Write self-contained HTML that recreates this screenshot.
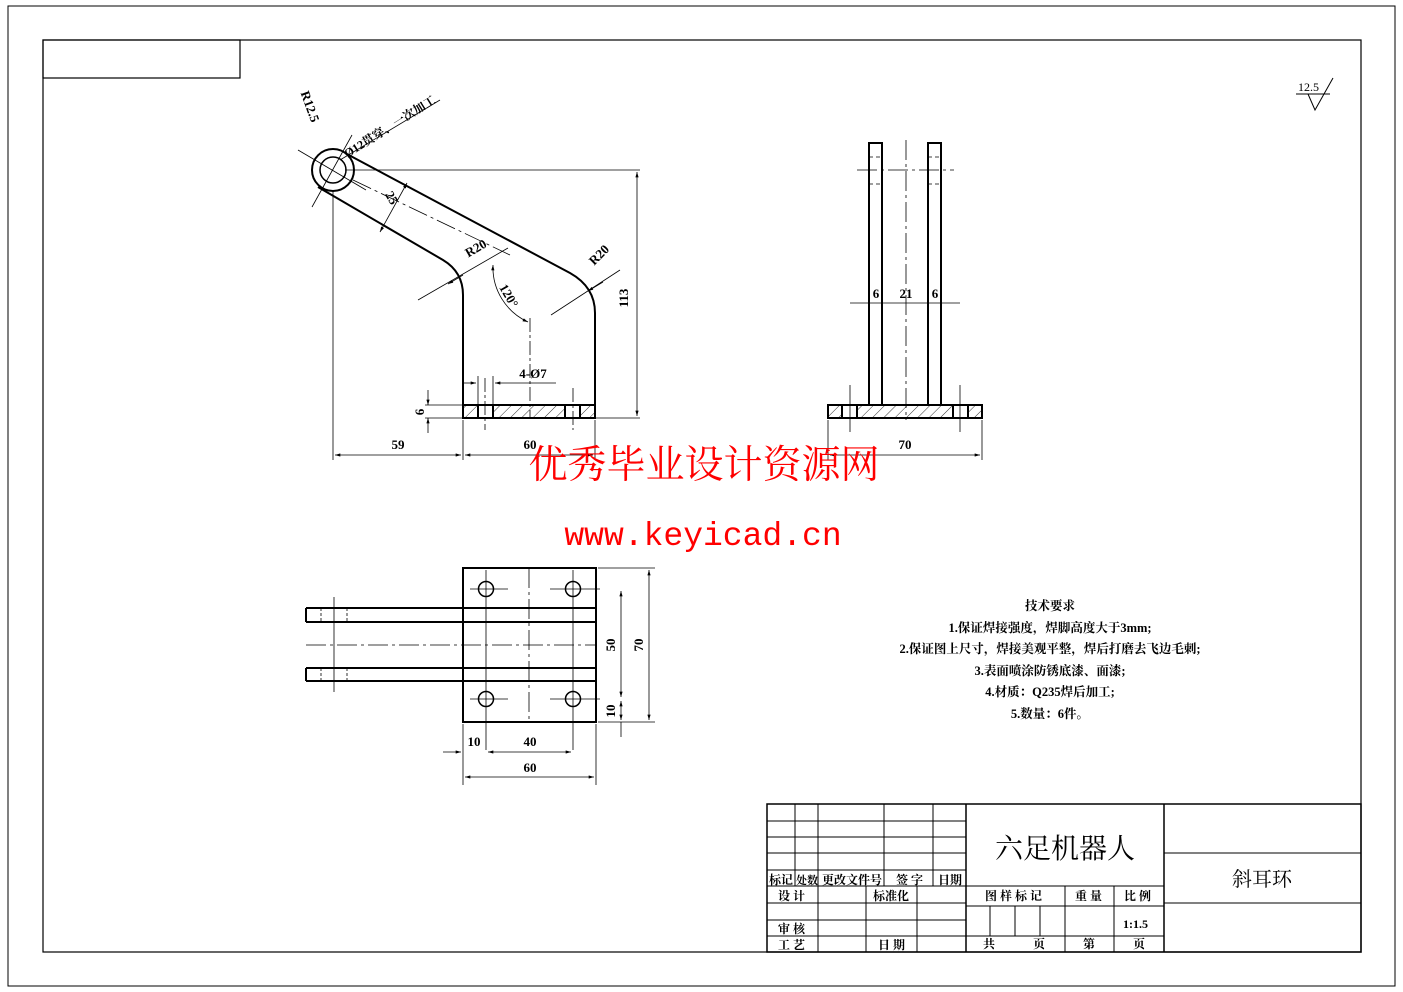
<!DOCTYPE html>
<html><head><meta charset="utf-8"><style>
html,body{margin:0;padding:0;background:#fff}
svg{display:block}
text{font-family:"Liberation Serif","Noto Serif CJK SC","WenQuanYi Zen Hei",serif;fill:#000}
.c{font-family:"Liberation Serif","Noto Sans CJK SC",sans-serif;font-weight:bold}
</style></head><body>
<svg width="1403" height="992" viewBox="0 0 1403 992" xmlns="http://www.w3.org/2000/svg">
<defs>
<pattern id="h" width="8" height="8" patternUnits="userSpaceOnUse" patternTransform="rotate(45)"><line x1="0" y1="0" x2="0" y2="8" stroke="#000" stroke-width="0.8"/></pattern>
<marker id="a" viewBox="0 0 10 6" refX="10" refY="3" markerWidth="8" markerHeight="4" orient="auto-start-reverse"><path d="M0,0 L10,3 L0,6z" fill="#000"/></marker>
</defs>
<rect x="8" y="6" width="1387" height="980" fill="none" stroke="#000" stroke-width="1"/>
<rect x="43" y="40" width="1318" height="912" fill="none" stroke="#000" stroke-width="1.2"/>
<rect x="43" y="40" width="197" height="38" fill="none" stroke="#000" stroke-width="1.2"/>

<text x="1298" y="91" font-size="12">12.5</text>
<path d="M1296,94 L1330,94 M1308,94 L1315,110 L1333,78" fill="none" stroke="#000"/>

<g stroke="#000" fill="none">
<circle cx="333" cy="170" r="21" stroke-width="2"/>
<circle cx="333" cy="170" r="13" stroke-width="1.5"/>
<path d="M345,153 L570,273 Q595,287 595,313 L595,405" stroke-width="2"/>
<path d="M318,187 L443,260 Q463,272 463,295 L463,405" stroke-width="2"/>
<rect x="463" y="405" width="132" height="13" fill="url(#h)" stroke-width="2"/>
<rect x="478" y="405" width="15" height="13" fill="#fff" stroke-width="2"/>
<rect x="565" y="405" width="15" height="13" fill="#fff" stroke-width="2"/>
<g stroke-width="0.8">
<line x1="485" y1="378" x2="485" y2="430" stroke-dasharray="14,3,3,3"/>
<line x1="573" y1="388" x2="573" y2="430" stroke-dasharray="14,3,3,3"/>
<line x1="530" y1="318" x2="530" y2="418" stroke-dasharray="14,3,3,3"/>
<line x1="298" y1="150" x2="366" y2="190"/>
<line x1="312" y1="207" x2="352" y2="135"/>
<line x1="353" y1="180" x2="510" y2="255" stroke-dasharray="20,4,3,4"/>
<line x1="345" y1="170" x2="640" y2="170"/>
<line x1="595" y1="418" x2="640" y2="418"/>
<line x1="637" y1="172" x2="637" y2="416" marker-start="url(#a)" marker-end="url(#a)"/>
<line x1="333" y1="190" x2="333" y2="460"/>
<line x1="463" y1="420" x2="463" y2="460"/>
<line x1="595" y1="420" x2="595" y2="460"/>
<line x1="335" y1="455" x2="461" y2="455" marker-start="url(#a)" marker-end="url(#a)"/>
<line x1="465" y1="455" x2="593" y2="455" marker-start="url(#a)" marker-end="url(#a)"/>
<line x1="425" y1="405" x2="463" y2="405"/>
<line x1="425" y1="418" x2="463" y2="418"/>
<line x1="428" y1="390" x2="428" y2="405" marker-end="url(#a)"/>
<line x1="428" y1="433" x2="428" y2="418" marker-end="url(#a)"/>
<line x1="463" y1="383" x2="476" y2="383" marker-end="url(#a)"/>
<line x1="556" y1="383" x2="495" y2="383" marker-end="url(#a)"/>
<line x1="493" y1="376" x2="493" y2="405"/><line x1="478" y1="376" x2="478" y2="405"/>
<line x1="380" y1="232" x2="407" y2="183" marker-start="url(#a)" marker-end="url(#a)"/>
<line x1="418" y1="300" x2="508" y2="248"/>
<line x1="463" y1="275" x2="448" y2="284" marker-end="url(#a)"/>
<line x1="551" y1="315" x2="620" y2="270"/>
<line x1="603" y1="282" x2="588" y2="291" marker-end="url(#a)"/>
<path d="M493,265 A60,60 0 0 0 528,322" marker-start="url(#a)" marker-end="url(#a)"/>
<line x1="340" y1="160" x2="440" y2="100"/>
</g>
</g>
<g class="c" font-size="13">
<text x="628" y="298" transform="rotate(-90 628 298)" text-anchor="middle">113</text>
<text x="398" y="449" text-anchor="middle">59</text>
<text x="530" y="449" text-anchor="middle">60</text>
<text x="533" y="378" text-anchor="middle">4-Ø7</text>
<text x="424" y="412" transform="rotate(-90 424 412)" text-anchor="middle">6</text>
<text x="388" y="200" transform="rotate(60 388 200)" text-anchor="middle">25</text>
<text x="478" y="252" transform="rotate(-30 478 252)" text-anchor="middle">R20</text>
<text x="602" y="258" transform="rotate(-45 602 258)" text-anchor="middle">R20</text>
<text x="505" y="298" transform="rotate(60 505 298)" text-anchor="middle">120°</text>
<text x="306" y="108" transform="rotate(70 306 108)" text-anchor="middle">R12.5</text>
<text x="392" y="130" transform="rotate(-32 392 130)" text-anchor="middle" font-size="12">Ø12贯穿、一次加工</text>
</g>

<g stroke="#000" fill="none">
<rect x="869" y="143" width="13" height="262" stroke-width="2"/>
<rect x="928" y="143" width="13" height="262" stroke-width="2"/>
<rect x="828" y="405" width="154" height="13" fill="url(#h)" stroke-width="2"/>
<rect x="842" y="405" width="15" height="13" fill="#fff" stroke-width="2"/>
<rect x="953" y="405" width="15" height="13" fill="#fff" stroke-width="2"/>
<g stroke-width="0.8">
<line x1="906" y1="140" x2="906" y2="420" stroke-dasharray="20,4,3,4"/>
<line x1="857" y1="170" x2="954" y2="170" stroke-dasharray="20,4,3,4"/>
<line x1="869" y1="157" x2="882" y2="157" stroke-dasharray="4,3"/><line x1="869" y1="184" x2="882" y2="184" stroke-dasharray="4,3"/>
<line x1="928" y1="157" x2="941" y2="157" stroke-dasharray="4,3"/><line x1="928" y1="184" x2="941" y2="184" stroke-dasharray="4,3"/>
<line x1="850" y1="303" x2="960" y2="303"/>
<line x1="850" y1="385" x2="850" y2="432"/><line x1="960" y1="385" x2="960" y2="432"/>
<line x1="828" y1="420" x2="828" y2="460"/><line x1="982" y1="420" x2="982" y2="460"/>
<line x1="830" y1="455" x2="980" y2="455" marker-start="url(#a)" marker-end="url(#a)"/>
</g>
</g>
<g class="c" font-size="13">
<text x="876" y="298" text-anchor="middle">6</text>
<text x="906" y="298" text-anchor="middle">21</text>
<text x="935" y="298" text-anchor="middle">6</text>
<text x="905" y="449" text-anchor="middle">70</text>
</g>

<g stroke="#000" fill="none">
<rect x="463" y="568" width="133" height="154" stroke-width="2"/>
<path d="M306,608 H596 M306,622 H596 M306,608 V622 M306,668 H596 M306,681 H596 M306,668 V681" stroke-width="2"/>
<circle cx="486" cy="589" r="7.5" stroke-width="1.5"/><circle cx="573" cy="589" r="7.5" stroke-width="1.5"/>
<circle cx="486" cy="699" r="7.5" stroke-width="1.5"/><circle cx="573" cy="699" r="7.5" stroke-width="1.5"/>
<g stroke-width="0.8">
<line x1="321" y1="608" x2="321" y2="622" stroke-dasharray="3,2"/><line x1="347" y1="608" x2="347" y2="622" stroke-dasharray="3,2"/>
<line x1="321" y1="668" x2="321" y2="681" stroke-dasharray="3,2"/><line x1="347" y1="668" x2="347" y2="681" stroke-dasharray="3,2"/>
<line x1="334" y1="597" x2="334" y2="692"/>
<line x1="306" y1="645" x2="596" y2="645" stroke-dasharray="20,4,3,4"/>
<line x1="529" y1="568" x2="529" y2="722" stroke-dasharray="20,4,3,4"/>
<line x1="470" y1="589" x2="508" y2="589"/><line x1="550" y1="589" x2="600" y2="589"/>
<line x1="470" y1="699" x2="508" y2="699"/><line x1="550" y1="699" x2="600" y2="699"/>
<line x1="486" y1="570" x2="486" y2="750"/><line x1="573" y1="570" x2="573" y2="750"/>
<line x1="463" y1="724" x2="463" y2="785"/><line x1="596" y1="724" x2="596" y2="785"/>
<line x1="443" y1="752" x2="461" y2="752" marker-end="url(#a)"/>
<line x1="488" y1="752" x2="571" y2="752" marker-start="url(#a)" marker-end="url(#a)"/>
<line x1="465" y1="777" x2="594" y2="777" marker-start="url(#a)" marker-end="url(#a)"/>
<line x1="598" y1="568" x2="655" y2="568"/><line x1="598" y1="722" x2="655" y2="722"/>
<line x1="621" y1="591" x2="621" y2="697" marker-start="url(#a)" marker-end="url(#a)"/>
<line x1="649" y1="570" x2="649" y2="720" marker-start="url(#a)" marker-end="url(#a)"/>
<line x1="621" y1="701" x2="621" y2="720" marker-start="url(#a)" marker-end="url(#a)"/>
<line x1="621" y1="722" x2="621" y2="737"/>
</g>
</g>
<g class="c" font-size="13">
<text x="474" y="746" text-anchor="middle">10</text>
<text x="530" y="746" text-anchor="middle">40</text>
<text x="530" y="772" text-anchor="middle">60</text>
<text x="615" y="645" transform="rotate(-90 615 645)" text-anchor="middle">50</text>
<text x="643" y="645" transform="rotate(-90 643 645)" text-anchor="middle">70</text>
<text x="615" y="711" transform="rotate(-90 615 711)" text-anchor="middle">10</text>
</g>

<g class="c" font-size="12.5" text-anchor="middle">
<text x="1050" y="610">技术要求</text>
<text x="1050" y="632">1.保证焊接强度，焊脚高度大于3mm;</text>
<text x="1050" y="653">2.保证图上尺寸，焊接美观平整，焊后打磨去飞边毛刺;</text>
<text x="1050" y="675">3.表面喷涂防锈底漆、面漆;</text>
<text x="1050" y="696">4.材质：Q235焊后加工;</text>
<text x="1050" y="718">5.数量：6件。</text>
</g>

<text x="704" y="478" text-anchor="middle" style="fill:#f00;font-size:39px;font-family:'Noto Serif CJK SC','Noto Sans CJK SC',serif">优秀毕业设计资源网</text>
<text x="703" y="545" text-anchor="middle" style="fill:#f00;font-size:33px;font-family:'Liberation Mono',monospace">www.keyicad.cn</text>

<g stroke="#000" fill="none" stroke-width="1">
<rect x="767" y="804" width="594" height="148" stroke-width="1.5"/>
<line x1="966" y1="804" x2="966" y2="952" stroke-width="1.5"/>
<line x1="1164" y1="804" x2="1164" y2="952" stroke-width="1.5"/>
<line x1="1164" y1="853" x2="1361" y2="853"/>
<line x1="1164" y1="903" x2="1361" y2="903"/>
<path d="M767,821H966 M767,837H966 M767,853H966 M767,870H966 M767,886H1164 M767,903H966 M767,920H966 M767,936H1164 M966,906H1164"/>
<path d="M795,804V886 M818,804V952 M884,804V886 M933,804V886 M866,886V952 M917,886V952"/>
<path d="M990,906V936 M1015,906V936 M1040,906V936 M1065,886V952 M1114,886V952"/>
</g>
<g class="c" font-size="12">
<text x="769" y="884">标记</text><text x="796" y="884" font-size="11">处数</text>
<text x="822" y="884">更改文件号</text><text x="896" y="884">签 字</text><text x="938" y="884">日期</text>
<text x="778" y="900">设 计</text><text x="873" y="900">标准化</text>
<text x="778" y="933">审 核</text><text x="778" y="949">工 艺</text><text x="878" y="949">日 期</text>
<text x="985" y="900">图 样 标 记</text><text x="1075" y="900">重 量</text><text x="1124" y="900">比 例</text>
<text x="1123" y="928">1:1.5</text>
<text x="983" y="948">共</text><text x="1033" y="948">页</text><text x="1083" y="948">第</text><text x="1133" y="948">页</text>
<text x="1065" y="858" font-size="28" font-weight="normal" text-anchor="middle">六足机器人</text>
<text x="1262" y="886" font-size="20" font-weight="normal" text-anchor="middle">斜耳环</text>
</g>
</svg>
</body></html>
